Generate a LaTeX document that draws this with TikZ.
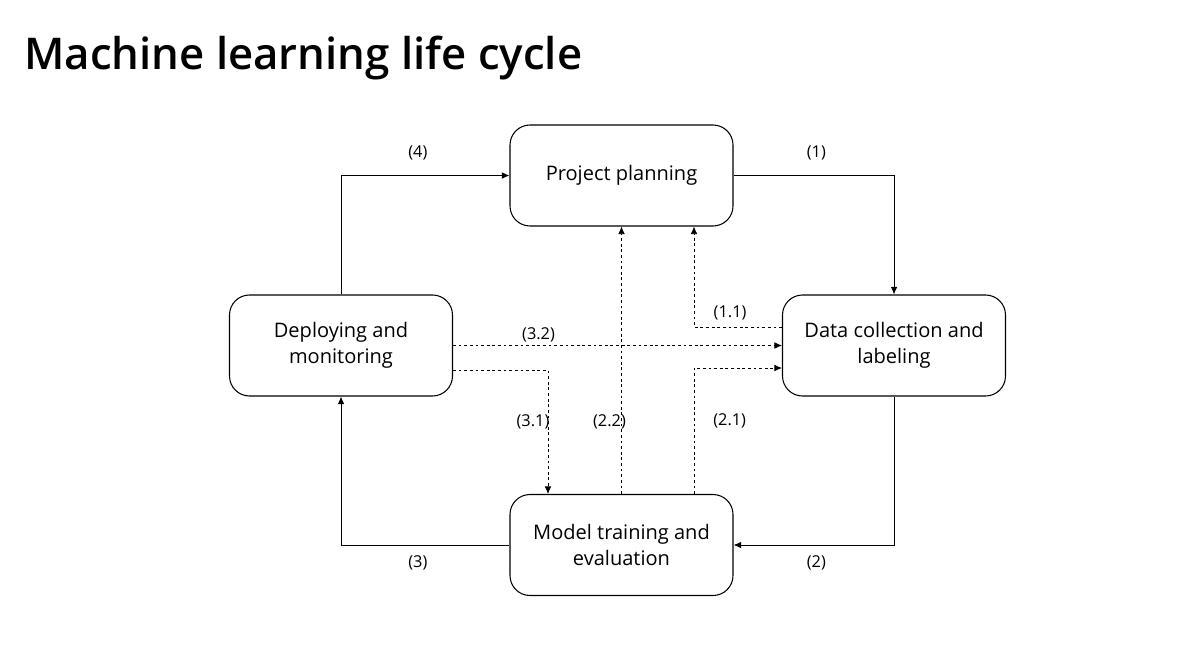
\documentclass[tikz,border=0pt]{standalone}
\usepackage{fontspec}
\setmainfont{Open Sans}
\newfontfamily\titlefont{Open Sans Semibold}
\usepackage{tikz}
\usetikzlibrary{arrows.meta,positioning,calc}

\begin{document}
\begin{tikzpicture}[
    font=\fontsize{11.4}{14.7}\selectfont,
    stage/.style = {draw, rounded corners=4mm, align=center,
                    minimum width=44.6mm, minimum height=20.2mm,
                    line width=0.6pt},
    lbl/.style   = {font=\fontsize{9.3}{10}\selectfont, inner sep=0pt},
    arr/.style   = {-{Latex[length=1.5mm,width=1.3mm]}, line width=0.5pt},
    darr/.style  = {arr, dash pattern=on 1.6pt off 1.6pt, line width=0.4pt},
]
\useasboundingbox (0,0) rectangle (23.9,-13.28);

% ============ Title ============
\node[anchor=base west, inner sep=0pt, font=\titlefont\fontsize{24.9}{30}\selectfont]
    (title) at (0.48,-1.39) {Machine learning life cycle};

% ============ Four stages ============
\node[stage] (pp) at (12.43,-3.51)  {Project planning};
\node[stage] (dc) at (17.88,-6.91)  {Data collection and\\labeling};
\node[stage] (dp) at (6.82,-6.91)   {Deploying and\\monitoring};
\node[stage] (mt) at (12.43,-10.90) {Model training and\\evaluation};

% ============ Main cycle ============
\draw[arr] (pp.east) -| node[lbl, pos=0.258, above=3mm] {(1)} (dc.north);
\draw[arr] (dc.south) |- node[lbl, pos=0.742, below=2mm] {(2)} (mt.east);
\draw[arr] (mt.west) -| node[lbl, pos=0.272, below=2mm] {(3)} (dp.south);
\draw[arr] (dp.north) |- node[lbl, pos=0.728, above=3mm] {(4)} (pp.west);

% ============ Feedback paths (dashed) ============
\draw[darr] ([yshift=3.7mm]dc.west) -| node[lbl, pos=0.295, above=1.3mm] {(1.1)}
    ([xshift=14.5mm]pp.south);
\draw[darr] ([xshift=14.5mm]mt.north) |- node[lbl, pos=0.29, right=3.8mm] {(2.1)}
    ([yshift=-4.5mm]dc.west);
\draw[darr] (mt.north) -- node[lbl, pos=0.27, xshift=-2.4mm] {(2.2)} (pp.south);
\draw[darr] ([yshift=-4.9mm]dp.east) -| node[lbl, pos=0.71, xshift=-3mm] {(3.1)}
    ([xshift=-14.7mm]mt.north);
\draw[darr] (dp.east) -- node[lbl, pos=0.26, above=0.6mm] {(3.2)} (dc.west);

\end{tikzpicture}
\end{document}
